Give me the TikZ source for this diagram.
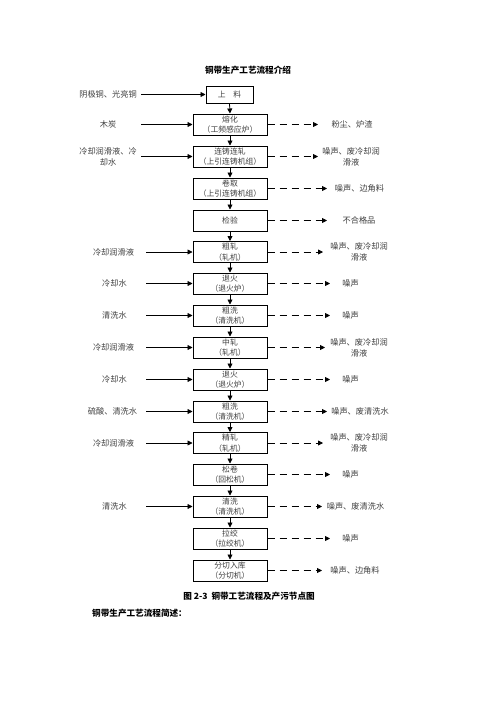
\documentclass[tikz,border=0pt]{standalone}
\usepackage{fontspec}
\setmainfont{Noto Sans CJK SC}
\usetikzlibrary{arrows.meta}
\begin{document}
\begin{tikzpicture}[x=1pt,y=-1pt,
  box/.style={draw,line width=1pt,minimum width=74pt,minimum height=21pt,inner sep=0pt,align=center,font=\fontsize{7.8}{10.5}\selectfont,text=black!75},
  lbl/.style={align=center,inner sep=0pt,font=\fontsize{8.2}{11}\selectfont,text=black!75},
  ttl/.style={inner sep=0pt,font=\fontsize{8.6}{10}\selectfont\bfseries},
  tip/.style={-{Triangle[length=5pt,width=5pt]}},
  inarr/.style={tip,line width=0.8pt},
  outarr/.style={tip,line width=0.8pt,dash pattern=on 7pt off 5pt},
  flow/.style={tip,line width=0.8pt}]
\useasboundingbox[fill=white] (0,0) rectangle (496,702);

\node[ttl] (title) at (248,70) {铜带生产工艺流程介绍};

% boxes
\node[box,minimum width=47pt,minimum height=17pt] (b0) at (229.5,94.5) {上\quad 料};
\node[box] (b1) at (230,124.5) {熔化\\（工频感应炉）};
\node[box] (b2) at (230,156.5) {连铸连轧\\（上引连铸机组）};
\node[box] (b3) at (230,188.5) {卷取\\（上引连铸机组）};
\node[box] (b4) at (230,220.5) {检验};
\node[box] (b5) at (230,252) {粗轧\\（轧机）};
\node[box] (b6) at (230,283.5) {退火\\（退火炉）};
\node[box] (b7) at (230,315.5) {粗洗\\（清洗机）};
\node[box] (b8) at (230,347.5) {中轧\\（轧机）};
\node[box] (b9) at (230,379.5) {退火\\（退火炉）};
\node[box] (b10) at (230,411.5) {粗洗\\（清洗机）};
\node[box] (b11) at (230,443) {精轧\\（轧机）};
\node[box] (b12) at (230,474.5) {松卷\\（回松机）};
\node[box] (b13) at (230,506.5) {清洗\\（清洗机）};
\node[box] (b14) at (230,538.5) {拉绞\\（拉绞机）};
\node[box] (b15) at (230,570.5) {分切入库\\（分切机）};

% vertical flow
\foreach \a/\b in {b0/b1,b1/b2,b2/b3,b3/b4,b4/b5,b5/b6,b6/b7,b7/b8,b8/b9,b9/b10,b10/b11,b11/b12,b12/b13,b13/b14,b14/b15}
  \draw[flow] (\a.south) -- (\b.north);

% left inputs
\node[lbl] (l0) at (108,94.5) {阴极铜、光亮铜};
\node[lbl] (l1) at (108,124.5) {木炭};
\node[lbl] (l2) at (108,156.5) {冷却润滑液、冷\\却水};
\node[lbl] (l5) at (113.5,252) {冷却润滑液};
\node[lbl] (l6) at (114.5,283.5) {冷却水};
\node[lbl] (l7) at (114.5,315.5) {清洗水};
\node[lbl] (l8) at (113.5,347.5) {冷却润滑液};
\node[lbl] (l9) at (114.5,379.5) {冷却水};
\node[lbl] (l10) at (112.5,411.5) {硫酸、清洗水};
\node[lbl] (l11) at (113.5,443) {冷却润滑液};
\node[lbl] (l13) at (114.5,506.5) {清洗水};

\coordinate (s0) at (141,94.5);
\coordinate (s1) at (141,124.5);
\coordinate (s2) at (141,156.5);
\coordinate (s5) at (146,252);
\coordinate (s6) at (146,283.5);
\coordinate (s7) at (146,315.5);
\coordinate (s8) at (146,347.5);
\coordinate (s9) at (146,379.5);
\coordinate (s10) at (146,411.5);
\coordinate (s11) at (146,443);
\coordinate (s13) at (146,506.5);
\foreach \i in {0,1,2,5,6,7,8,9,10,11,13}
  \draw[inarr] (s\i) -- (b\i.west);

% right outputs
\node[lbl] (r1) at (352,124.5) {粉尘、炉渣};
\node[lbl] (r2) at (351,156.5) {噪声、废冷却润\\滑液};
\node[lbl] (r3) at (359.5,188.5) {噪声、边角料};
\node[lbl] (r4) at (359,220.5) {不合格品};
\node[lbl] (r5) at (359,252) {噪声、废冷却润\\滑液};
\node[lbl] (r6) at (350.5,283.5) {噪声};
\node[lbl] (r7) at (350.5,315.5) {噪声};
\node[lbl] (r8) at (359,347.5) {噪声、废冷却润\\滑液};
\node[lbl] (r9) at (350.5,379.5) {噪声};
\node[lbl] (r10) at (360,411.5) {噪声、废清洗水};
\node[lbl] (r11) at (359,443) {噪声、废冷却润\\滑液};
\node[lbl] (r12) at (350.5,474.5) {噪声};
\node[lbl] (r13) at (355.5,506.5) {噪声、废清洗水};
\node[lbl] (r14) at (350.5,538.5) {噪声};
\node[lbl] (r15) at (355,570.5) {噪声、边角料};

\coordinate (e1) at (318,124.5);
\coordinate (e2) at (318,156.5);
\coordinate (e3) at (327,188.5);
\coordinate (e4) at (327,220.5);
\coordinate (e5) at (323,252);
\coordinate (e6) at (330,283.5);
\coordinate (e7) at (330,315.5);
\coordinate (e8) at (325,347.5);
\coordinate (e9) at (330,379.5);
\coordinate (e10) at (327,411.5);
\coordinate (e11) at (323,443);
\coordinate (e12) at (330,474.5);
\coordinate (e13) at (322,506.5);
\coordinate (e14) at (330,538.5);
\coordinate (e15) at (322,570.5);
\foreach \i in {1,...,15}
  \draw[outarr] (b\i.east) -- (e\i);

% captions
\node[ttl] (cap) at (249,596) {图 2-3\ \ 铜带工艺流程及产污节点图};
\node[ttl,anchor=west] (sub) at (92,613) {铜带生产工艺流程简述：};
\end{tikzpicture}
\end{document}
